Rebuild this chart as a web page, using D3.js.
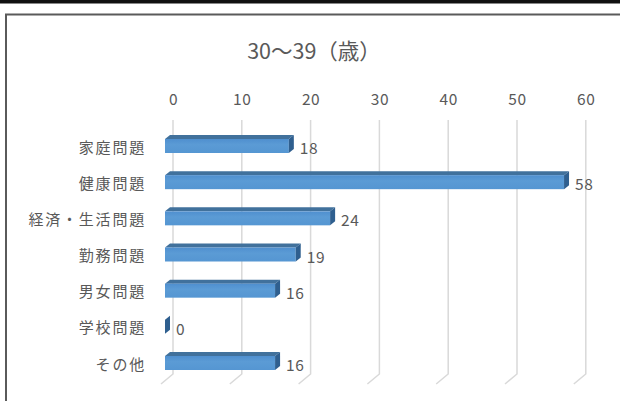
<!DOCTYPE html>
<html>
<head>
<meta charset="utf-8">
<script src="https://cdn.jsdelivr.net/npm/d3@7"></script>
<style>
  html, body { margin: 0; padding: 0; background: #fff; }
  svg { display: block; }
</style>
</head>
<body>
<svg id="chart" width="620" height="401"></svg>
<script>
// Reasons by category, age group 30-39
const title = "30～39（歳）";
const categories = ["家庭問題", "健康問題", "経済・生活問題", "勤務問題", "男女問題", "学校問題", "その他"];
const values = [18, 58, 24, 19, 16, 0, 16];
const tickValues = [0, 10, 20, 30, 40, 50, 60];

const svg = d3.select("#chart");
const W = 620, H = 401;
const textColor = "#595959";
const font = "'Noto Sans CJK JP', 'Noto Sans', sans-serif";

// page frame: dark band on top and the chart border
svg.append("rect").attr("x", 0).attr("y", 0).attr("width", W).attr("height", 3.5).attr("fill", "#111");
svg.append("path")
  .attr("d", `M6,${H + 2} V14.5 H${W + 2}`)
  .attr("fill", "none").attr("stroke", "#5a5a5a").attr("stroke-width", 2);

// scales: back wall and front plane share the same unit length
const len = d3.scaleLinear().domain([0, 60]).range([0, 412.8]);
const backX0 = 173, frontX0 = 165;
const y = d3.scalePoint().domain(categories).range([146, 363]);

const wallTop = 120, wallBottom = 374;
const floorDx = -12, floorDy = 10;

// gridlines on the back wall, bending onto the floor
const grid = svg.append("g");
tickValues.forEach(v => {
  const x = backX0 + len(v);
  grid.append("path")
    .attr("d", `M${x},${wallTop} V${wallBottom} l${floorDx},${floorDy}`)
    .attr("fill", "none").attr("stroke", "#d9d9d9").attr("stroke-width", 1.5);
});

// top axis built from the same scale
const axisScale = d3.scaleLinear().domain([0, 60]).range([backX0, backX0 + len(60)]);
const axis = svg.append("g").attr("transform", "translate(0,100)")
  .call(d3.axisTop(axisScale).tickValues(tickValues).tickSize(0).tickPadding(0));
axis.select(".domain").remove();
axis.selectAll("text")
  .attr("fill", textColor).attr("font-family", font).attr("font-size", 15.5)
  .attr("letter-spacing", 0.6)
  .attr("dy", "0.32em");

// title
svg.append("text").attr("x", 314).attr("y", 49)
  .attr("text-anchor", "middle").attr("dominant-baseline", "central")
  .attr("fill", textColor).attr("font-family", font).attr("font-size", 21.5)
  .text(title);

// category labels
svg.append("g").selectAll("text").data(categories).join("text")
  .attr("x", 146).attr("y", d => y(d))
  .attr("text-anchor", "end").attr("dominant-baseline", "central")
  .attr("fill", textColor).attr("font-family", font).attr("font-size", 15)
  .attr("letter-spacing", 1.8)
  .text(d => d);

// 3D bars: front face, top face, right side face
const half = 7, dx = 5, dy = -4;
const defs = svg.append("defs");
const grad = defs.append("linearGradient").attr("id", "front").attr("x1", 0).attr("y1", 0).attr("x2", 0).attr("y2", 1);
grad.append("stop").attr("offset", "0%").attr("stop-color", "#4f8fcf");
grad.append("stop").attr("offset", "40%").attr("stop-color", "#5b9bd5");
grad.append("stop").attr("offset", "100%").attr("stop-color", "#5596d2");

const bars = svg.append("g").selectAll("g").data(categories.map((c, i) => ({ c, v: values[i] }))).join("g");
bars.each(function (d) {
  const g = d3.select(this);
  const c = y(d.c);
  const x0 = frontX0, x1 = frontX0 + len(d.v);
  // top face
  g.append("path")
    .attr("d", `M${x0},${c - half} L${x0 + dx},${c - half + dy} L${x1 + dx},${c - half + dy} L${x1},${c - half} Z`)
    .attr("fill", "#41719c");
  // front face
  if (d.v > 0) {
    g.append("rect").attr("x", x0).attr("y", c - half).attr("width", x1 - x0).attr("height", half * 2)
      .attr("fill", "url(#front)");
  }
  // side face
  g.append("path")
    .attr("d", `M${x1},${c - half} L${x1 + dx},${c - half + dy} L${x1 + dx},${c + half + dy} L${x1},${c + half} Z`)
    .attr("fill", "#2f5f8f");
  // value label
  g.append("text").attr("x", x1 + dx + 6).attr("y", c + 1)
    .attr("dominant-baseline", "central")
    .attr("fill", textColor).attr("font-family", font).attr("font-size", 15.5)
    .attr("letter-spacing", 0.6)
    .text(d.v);
});
</script>
</body>
</html>
